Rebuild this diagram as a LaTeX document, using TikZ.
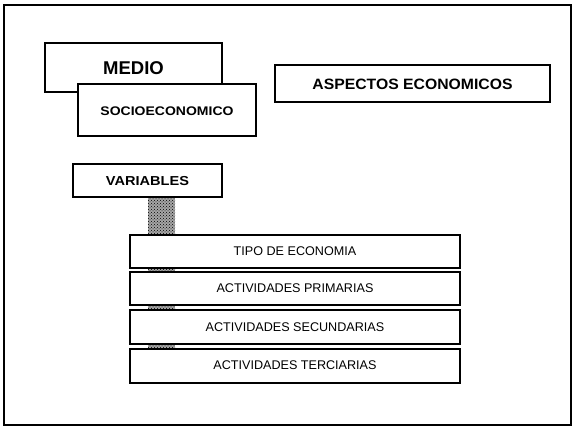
\documentclass[tikz,border=0pt]{standalone}
\usepackage{fontspec}
\setmainfont{Liberation Sans}
\usetikzlibrary{patterns}
\begin{document}
\begin{tikzpicture}[x=1pt,y=-1pt,
  boxline/.style={draw=black,line width=1.1pt,fill=white},
  frameline/.style={draw=black,line width=2pt},
  bigtxt/.style={font=\fontsize{18.5}{18}\selectfont\bfseries},
  midtxt/.style={font=\fontsize{15}{15}\selectfont\bfseries,xscale=1.05},
  smalltxt/.style={font=\fontsize{12.5}{13}\selectfont\bfseries,xscale=1.12},
  listtxt/.style={font=\fontsize{12.6}{13}\selectfont},
  hatchbar/.style={preaction={fill=gray!70},pattern=crosshatch dots,pattern color=black}]
\useasboundingbox (0,0) rectangle (574,427);
\draw[frameline] (3.5,5) rectangle (571,425);
% MEDIO / SOCIOECONOMICO
\draw[boxline] (45,43) rectangle (222,92);
\node[bigtxt] (medio) at (133.5,68) {MEDIO};
\draw[boxline] (78,84) rectangle (256,136);
\node[smalltxt] (socio) at (167,111) {SOCIOECONOMICO};
% ASPECTOS
\draw[boxline] (275,65) rectangle (550,102);
\node[midtxt] (asp) at (412.5,84) {ASPECTOS ECONOMICOS};
% hatched bar behind list
\fill[hatchbar] (148,197) rectangle (175,349);
% VARIABLES
\draw[boxline] (73,164) rectangle (222,197);
\node[smalltxt,font=\fontsize{13}{13}\selectfont\bfseries] (var) at (147.5,181) {VARIABLES};
% list
\draw[boxline] (130,235) rectangle (460,268);
\node[listtxt] (tipo) at (295,251.5) {TIPO DE ECONOMIA};
\draw[boxline] (130,272) rectangle (460,305);
\node[listtxt] (prim) at (295,288.5) {ACTIVIDADES PRIMARIAS};
\draw[boxline] (130,310) rectangle (460,344);
\node[listtxt] (sec) at (295,327) {ACTIVIDADES SECUNDARIAS};
\draw[boxline] (130,349) rectangle (460,383);
\node[listtxt] (ter) at (295,365) {ACTIVIDADES TERCIARIAS};
\end{tikzpicture}
\end{document}
